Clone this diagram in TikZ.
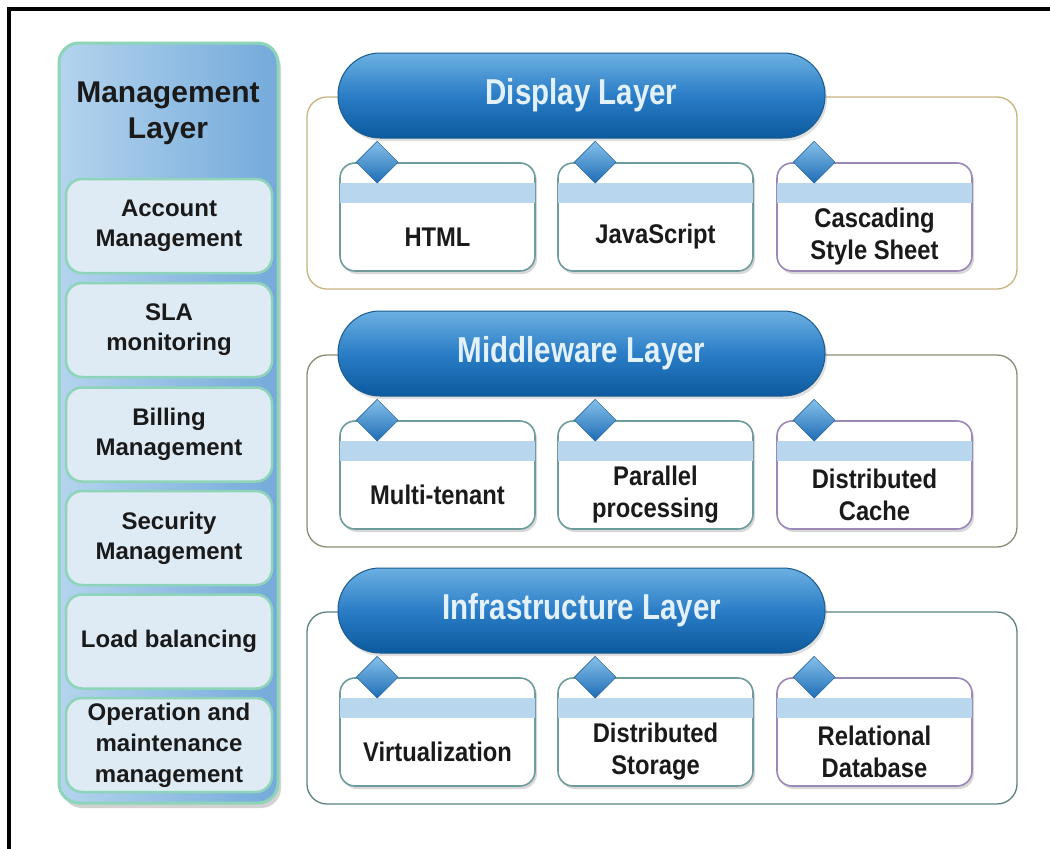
\documentclass[tikz,border=0pt]{standalone}
\usepackage{fontspec}
\setmainfont{Liberation Sans}
\newfontfamily\narrowfont{Liberation Sans}[FakeStretch=0.82]
\newfontfamily\itemfont{Liberation Sans}[FakeStretch=0.88]
\usetikzlibrary{shapes.geometric,shadows,calc}
\definecolor{pilltop}{HTML}{6CB0E2}
\definecolor{pillmid}{HTML}{2A7DC6}
\definecolor{pillbot}{HTML}{0C5A9F}
\definecolor{pillline}{HTML}{1B5C8E}
\definecolor{pilltext}{HTML}{E2F1FB}
\definecolor{stripecol}{HTML}{B8D7EE}
\definecolor{tealline}{HTML}{6E9C9C}
\definecolor{purpline}{HTML}{9C88B6}
\definecolor{frametan}{HTML}{C9B37F}
\definecolor{framemid}{HTML}{8E8C74}
\definecolor{frameinf}{HTML}{5C8282}
\definecolor{mintline}{HTML}{8DD4B9}
\definecolor{panelleft}{HTML}{B4D4EE}
\definecolor{panelright}{HTML}{74AADA}
\definecolor{subfill}{HTML}{DEEBF5}
\definecolor{txt}{HTML}{1A1A1A}
\definecolor{gemtop}{HTML}{86C0EA}
\definecolor{gembot}{HTML}{1E6DB5}
\tikzset{
  mgmtpanel/.style={rectangle, rounded corners=20pt, draw=mintline, line width=3pt,
    left color=panelleft, right color=panelright, minimum width=219pt, minimum height=760pt,
    drop shadow={opacity=0.35, shadow xshift=3pt, shadow yshift=-5pt}},
  mgmtbox/.style={rectangle, rounded corners=16pt, draw=mintline, line width=2.5pt,
    fill=subfill, minimum width=206pt, minimum height=94pt, text=txt, align=center,
    font=\bfseries\fontsize{24}{30}\selectfont, inner sep=0pt},
  pill/.style={rectangle, rounded corners=42pt, draw=pillline, line width=1pt,
    top color=pilltop, bottom color=pillbot, middle color=pillmid,
    minimum width=487pt, minimum height=85pt, text=pilltext,
    font=\narrowfont\bfseries\fontsize{36}{40}\selectfont,
    drop shadow={opacity=0.25, shadow xshift=2pt, shadow yshift=-3pt}},
  layerframe/.style={rectangle, rounded corners=20pt, line width=1.3pt, fill=white,
    minimum width=710pt, minimum height=192pt},
  itembox/.style={rectangle, rounded corners=15pt, line width=1.6pt, fill=white,
    minimum width=195pt, minimum height=108pt,
    drop shadow={opacity=0.3, shadow xshift=2pt, shadow yshift=-3pt}},
  itemtext/.style={text=txt, align=center, inner sep=0pt,
    font=\itemfont\bfseries\fontsize{27}{32}\selectfont},
  gem/.style={diamond, inner sep=0pt, minimum width=42pt, minimum height=42pt,
    top color=gemtop, bottom color=gembot, draw=gembot!80!black, line width=0.4pt},
  stripe/.style={fill=stripecol},
}
\newcommand{\itemcell}[5]{% name, x, y0, color, text
  \node[itembox, draw=#4] (#1) at (#2,#3+164) {};
  \fill[stripe] ($(#1.north west)+(1,21)$) rectangle ($(#1.north east)+(-1,41)$);
  \node[itemtext] (#1t) at ($(#1.center)+(0,20)$) {#5};
  \node[gem] (#1g) at ($(#1.north west)+(38,0)$) {};
}
\newcommand{\layergroup}[5]{% name, y0, frame color, title
  \node[layerframe, draw=#3] (#1frame) at (662,#2+140) {};
  \node[pill] (#1pill) at (581.5,#2+42.5) {#4};
}
\begin{document}
\begin{tikzpicture}[x=1pt,y=-1pt]
\useasboundingbox (0,0) rectangle (1050,849);
\fill[white] (0,0) rectangle (1050,849);
\draw[line width=4pt] (9,849) -- (9,9) -- (1050,9);

% Management panel
\node[mgmtpanel] (mgmt) at (168.5,423) {};
\node[text=txt, align=center, font=\bfseries\fontsize{30}{36}\selectfont] (mgmttitle) at (168,113) {Management\\Layer};
\node[mgmtbox] (acct) at (169,226) {Account\\Management};
\node[mgmtbox] (sla) at (169,330) {SLA\\monitoring};
\node[mgmtbox] (bill) at (169,434.5) {Billing\\Management};
\node[mgmtbox] (sec) at (169,538) {Security\\Management};
\node[mgmtbox] (load) at (169,641.5) {Load balancing};
\node[mgmtbox, font=\bfseries\fontsize{24}{31}\selectfont] (oper) at (169,745) {Operation and\\maintenance\\management};

% Display layer
\layergroup{disp}{53}{frametan}{Display Layer}{}
\itemcell{html}{437.5}{53}{tealline}{HTML}
\itemcell{js}{655.5}{53}{tealline}{JavaScript}
\itemcell{css}{874.5}{53}{purpline}{Cascading\\Style Sheet}

% Middleware layer
\layergroup{mid}{311}{framemid}{Middleware Layer}{}
\itemcell{mt}{437.5}{311}{tealline}{Multi-tenant}
\itemcell{pp}{655.5}{311}{tealline}{Parallel\\processing}
\itemcell{dc}{874.5}{311}{purpline}{Distributed\\Cache}

% Infrastructure layer
\layergroup{inf}{568}{frameinf}{Infrastructure Layer}{}
\itemcell{virt}{437.5}{568}{tealline}{Virtualization}
\itemcell{ds}{655.5}{568}{tealline}{Distributed\\Storage}
\itemcell{rdb}{874.5}{568}{purpline}{Relational\\Database}
\end{tikzpicture}
\end{document}
